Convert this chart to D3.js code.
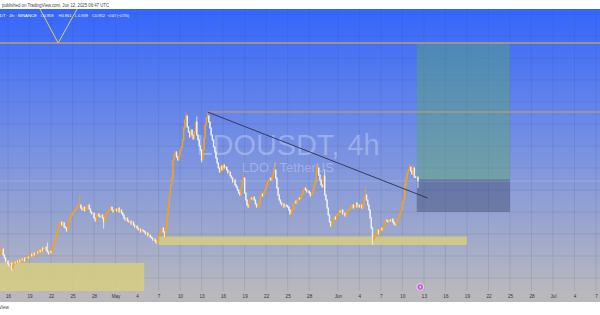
<!DOCTYPE html>
<html>
<head>
<meta charset="utf-8">
<script src="https://cdn.jsdelivr.net/npm/d3@7"></script>
<style>
  body { margin: 0; background: #fff; overflow: hidden; }
  svg { display: block; font-family: "Liberation Sans", Arial, sans-serif; }
</style>
</head>
<body>
<div id="chart"></div>
<script>
// LDOUSDT 4h closes, one row per day, starting 2025-04-15 00:00 UTC
var firstOpen = 0.806;
var closes = [
  0.810, 0.816, 0.804, 0.798, 0.790, 0.792,
  0.786, 0.782, 0.788, 0.778, 0.784, 0.790,
  0.788, 0.792, 0.790, 0.794, 0.790, 0.796,
  0.794, 0.798, 0.792, 0.796, 0.800, 0.798,
  0.802, 0.806, 0.802, 0.808, 0.804, 0.806,
  0.810, 0.808, 0.814, 0.810, 0.818, 0.812,
  0.816, 0.820, 0.814, 0.810, 0.806, 0.812,
  0.808, 0.818, 0.826, 0.834, 0.842, 0.850,
  0.862, 0.866, 0.870, 0.864, 0.868, 0.860,
  0.858, 0.852, 0.862, 0.870, 0.880, 0.884,
  0.888, 0.892, 0.894, 0.898, 0.900, 0.902,
  0.904, 0.898, 0.894, 0.900, 0.892, 0.896,
  0.900, 0.904, 0.896, 0.890, 0.886, 0.888,
  0.878, 0.872, 0.882, 0.886, 0.882, 0.880,
  0.884, 0.878, 0.870, 0.880, 0.886, 0.890,
  0.892, 0.894, 0.900, 0.894, 0.890, 0.894,
  0.896, 0.892, 0.898, 0.890, 0.894, 0.888,
  0.884, 0.878, 0.874, 0.878, 0.872, 0.870,
  0.872, 0.866, 0.870, 0.864, 0.860, 0.862,
  0.858, 0.854, 0.856, 0.850, 0.854, 0.852,
  0.850, 0.846, 0.848, 0.842, 0.844, 0.840,
  0.838, 0.834, 0.836, 0.832, 0.828, 0.832,
  0.842, 0.848, 0.854, 0.858, 0.850, 0.840,
  0.858, 0.884, 0.900, 0.924, 0.944, 0.958,
  0.994, 1.004, 1.010, 1.000, 0.994, 1.002,
  1.014, 1.020, 1.034, 1.058, 1.074, 1.082,
  1.060, 1.050, 1.040, 1.054, 1.044, 1.036,
  1.050, 1.070, 1.044, 1.034, 1.022, 1.014,
  0.994, 1.014, 1.038, 1.064, 1.078, 1.082,
  1.070, 1.058, 1.044, 1.034, 1.020, 1.010,
  0.998, 0.988, 0.978, 0.970, 0.982, 0.974,
  0.984, 0.978, 0.980, 0.974, 0.968, 0.970,
  0.962, 0.958, 0.950, 0.954, 0.944, 0.940,
  0.934, 0.928, 0.924, 0.938, 0.954, 0.958,
  0.928, 0.914, 0.904, 0.900, 0.914, 0.918,
  0.916, 0.920, 0.914, 0.906, 0.900, 0.902,
  0.908, 0.920, 0.926, 0.922, 0.928, 0.934,
  0.944, 0.950, 0.954, 0.958, 0.954, 0.960,
  0.970, 0.974, 0.958, 0.938, 0.924, 0.914,
  0.908, 0.904, 0.906, 0.900, 0.904, 0.902,
  0.900, 0.894, 0.886, 0.890, 0.896, 0.908,
  0.912, 0.908, 0.914, 0.918, 0.916, 0.922,
  0.926, 0.934, 0.938, 0.934, 0.930, 0.932,
  0.928, 0.922, 0.926, 0.934, 0.944, 0.950,
  0.970, 0.978, 0.964, 0.954, 0.944, 0.940,
  0.962, 0.924, 0.914, 0.898, 0.884, 0.870,
  0.862, 0.868, 0.874, 0.880, 0.876, 0.882,
  0.888, 0.892, 0.890, 0.894, 0.886, 0.888,
  0.882, 0.886, 0.892, 0.894, 0.898, 0.902,
  0.904, 0.898, 0.902, 0.908, 0.900, 0.904,
  0.900, 0.904, 0.898, 0.906, 0.920, 0.924,
  0.914, 0.904, 0.894, 0.878, 0.858, 0.834,
  0.838, 0.842, 0.850, 0.854, 0.846, 0.850,
  0.858, 0.854, 0.862, 0.870, 0.874, 0.872,
  0.870, 0.874, 0.872, 0.876, 0.870, 0.866,
  0.864, 0.870, 0.878, 0.880, 0.888, 0.894,
  0.910, 0.918, 0.944, 0.958, 0.968, 0.974,
  0.980, 0.972, 0.966, 0.978, 0.960, 0.959,
  0.959, 0.952
];

// visible wicks: [candle index, high, low] (null = no wick on that side)
var wicks = [
  [1, 0.822, null], [9, null, 0.774], [39, 0.828, null], [66, 0.922, null],
  [86, null, 0.858], [155, 1.088, null], [164, 1.080, null], [168, null, 0.990],
  [173, 1.090, null], [203, 0.964, null], [229, 0.988, null], [243, null, 0.882],
  [264, 0.984, null], [271, 0.974, null], [305, 0.940, null], [311, null, 0.826],
  [342, 0.984, null], [345, 0.984, null], [349, 0.961, 0.939]
];

var tickDates = [
  "2025-04-16", "2025-04-19", "2025-04-22", "2025-04-25", "2025-04-28",
  "2025-05-01", "2025-05-04", "2025-05-07", "2025-05-10", "2025-05-13",
  "2025-05-16", "2025-05-19", "2025-05-22", "2025-05-25", "2025-05-28",
  "2025-06-01", "2025-06-04", "2025-06-07", "2025-06-10", "2025-06-13",
  "2025-06-16", "2025-06-19", "2025-06-22", "2025-06-25", "2025-06-28",
  "2025-07-01", "2025-07-04", "2025-07-07"
];
var tickLabels = [
  "16", "19", "22", "25", "28", "May", "4", "7", "10", "13",
  "16", "19", "22", "25", "28", "Jun", "4", "7", "10", "13",
  "16", "19", "22", "25", "28", "Jul", "4", "7"
];
var gridPrices = [0.758, 0.802, 0.846, 0.890, 0.934, 0.978, 1.022, 1.066, 1.110, 1.154, 1.198, 1.242, 1.286];

// legend values of the last bar
var legendLabels = ["O", "H", "L", "C"];
var legendValues = ["0.959", "0.961", "0.939", "0.952"];
var legendChange = "−0.007 (−0.73%)";

// drawings
var vLine = [["2025-04-19T19:00", 1.314], ["2025-04-23T00:00", 1.228], ["2025-04-26T08:00", 1.314]];
var trendLine = [["2025-05-13T20:00", 1.090], ["2025-06-13T12:00", 0.918]];
var topLevel = 1.228;
var peakRay = ["2025-05-13T20:00", 1.090];
var position = { from: "2025-06-12T00:00", to: "2025-06-25T00:00", target: 1.226, entry: 0.954, stop: 0.890 };
var zones = [
  { from: "2025-05-07T00:00", to: "2025-06-19T00:00", hi: 0.841, lo: 0.824 },
  { from: "2025-04-10T00:00", to: "2025-05-05T00:00", hi: 0.788, lo: 0.700 }
];

var parseT = d3.utcParse("%Y-%m-%dT%H:%M");
var parseD = d3.utcParse("%Y-%m-%d");

var W = 600, H = 315;
var chartTop = 9, chartBottom = 291;

var x = d3.scaleUtc()
  .domain([parseD("2025-04-16"), parseD("2025-07-07")])
  .range([8, 596]);
var y = d3.scaleLinear()
  .domain([0.734, 1.296])
  .range([290, 9]);

// build candles
var start = parseT("2025-04-15T00:00");
var candles = closes.map(function (c, i) {
  var o = i == 0 ? firstOpen : closes[i - 1];
  return { t: new Date(start.getTime() + i * 4 * 3600 * 1000), o: o, c: c, h: Math.max(o, c), l: Math.min(o, c) };
});
wicks.forEach(function (w) {
  if (w[1] != null) candles[w[0]].h = w[1];
  if (w[2] != null) candles[w[0]].l = w[2];
});

var svg = d3.select("#chart").append("svg").attr("width", W).attr("height", H);

var defs = svg.append("defs");
var grad = defs.append("linearGradient").attr("id", "bg")
  .attr("x1", 0).attr("y1", 0).attr("x2", 0).attr("y2", 1);
grad.append("stop").attr("offset", 0).attr("stop-color", "#3466fc");
grad.append("stop").attr("offset", 0.5).attr("stop-color", "#7891e2");
grad.append("stop").attr("offset", 1).attr("stop-color", "#b8b8bd");
defs.append("clipPath").attr("id", "clip")
  .append("rect").attr("x", 0).attr("y", chartTop).attr("width", W).attr("height", chartBottom - chartTop);

// background
svg.append("rect").attr("x", 0).attr("y", chartTop).attr("width", W).attr("height", chartBottom - chartTop)
  .attr("fill", "url(#bg)");
svg.append("rect").attr("x", 0).attr("y", chartBottom).attr("width", W).attr("height", 11)
  .attr("fill", "#b9b9bd");

var plot = svg.append("g").attr("clip-path", "url(#clip)");

// grid
plot.append("g").selectAll("line").data(tickDates).join("line")
  .attr("x1", (d) => x(parseD(d))).attr("x2", (d) => x(parseD(d)))
  .attr("y1", chartTop).attr("y2", chartBottom)
  .attr("stroke", "rgba(60,70,120,0.12)").attr("stroke-width", 1);
plot.append("g").selectAll("line").data(gridPrices).join("line")
  .attr("x1", 0).attr("x2", W)
  .attr("y1", (d) => y(d)).attr("y2", (d) => y(d))
  .attr("stroke", "rgba(60,70,120,0.12)").attr("stroke-width", 1);

// watermark
plot.append("text").attr("x", 288).attr("y", 154.5).attr("text-anchor", "middle")
  .attr("font-size", 29).attr("fill", "rgba(255,255,255,0.28)")
  .attr("textLength", 183).attr("lengthAdjust", "spacingAndGlyphs")
  .text("LDOUSDT, 4h");
plot.append("text").attr("x", 288).attr("y", 171.5).attr("text-anchor", "middle")
  .attr("font-size", 13).attr("fill", "rgba(255,255,255,0.28)")
  .attr("textLength", 92).attr("lengthAdjust", "spacingAndGlyphs")
  .text("LDO / TetherUS");

// yellow zones
plot.append("g").selectAll("rect").data(zones).join("rect")
  .attr("x", (d) => x(parseT(d.from)))
  .attr("width", (d) => x(parseT(d.to)) - x(parseT(d.from)))
  .attr("y", (d) => y(d.hi))
  .attr("height", (d) => y(d.lo) - y(d.hi))
  .attr("fill", "rgb(214,206,128)").attr("opacity", 0.85);

// long position zones
var px0 = x(parseT(position.from)), px1 = x(parseT(position.to));
plot.append("rect").attr("x", px0).attr("width", px1 - px0)
  .attr("y", y(position.target)).attr("height", y(position.entry) - y(position.target))
  .attr("fill", "rgb(88,170,100)").attr("opacity", 0.42);
plot.append("rect").attr("x", px0).attr("width", px1 - px0)
  .attr("y", y(position.entry)).attr("height", y(position.stop) - y(position.entry))
  .attr("fill", "rgb(55,70,100)").attr("opacity", 0.42);
plot.append("line").attr("x1", px0).attr("x2", px1)
  .attr("y1", y(position.entry)).attr("y2", y(position.entry))
  .attr("stroke", "rgba(70,80,110,0.7)").attr("stroke-width", 0.8);

// current price line
var last = candles[candles.length - 1];
plot.append("line").attr("x1", 0).attr("x2", W)
  .attr("y1", y(last.c)).attr("y2", y(last.c))
  .attr("stroke", "rgba(215,222,255,0.25)").attr("stroke-width", 1);

// horizontal levels
plot.append("line").attr("x1", 0).attr("x2", W)
  .attr("y1", y(topLevel)).attr("y2", y(topLevel))
  .attr("stroke", "rgba(228,168,80,0.8)").attr("stroke-width", 1.3);
plot.append("line").attr("x1", x(parseT(peakRay[0]))).attr("x2", W)
  .attr("y1", y(peakRay[1])).attr("y2", y(peakRay[1]))
  .attr("stroke", "rgba(215,150,100,0.65)").attr("stroke-width", 1.3);

// candles
var cg = plot.append("g");
cg.selectAll("line").data(candles).join("line")
  .attr("x1", (d) => x(d.t)).attr("x2", (d) => x(d.t))
  .attr("y1", (d) => y(d.h) - 0.6).attr("y2", (d) => y(d.l) + 0.6)
  .attr("stroke", (d) => d.c >= d.o ? "#f7a11c" : "#eef0fa")
  .attr("stroke-width", 0.8);
cg.selectAll("rect").data(candles).join("rect")
  .attr("x", (d) => x(d.t) - 0.7)
  .attr("width", 1.4)
  .attr("y", (d) => y(Math.max(d.o, d.c)) - 0.3)
  .attr("height", (d) => Math.max(1, Math.abs(y(d.o) - y(d.c)) + 0.6))
  .attr("fill", (d) => d.c >= d.o ? "#f7a11c" : "#eef0fa");

// trend line
var line = d3.line().x((d) => x(parseT(d[0]))).y((d) => y(d[1]));
plot.append("path").datum(trendLine).attr("d", line)
  .attr("fill", "none").attr("stroke", "#283150").attr("stroke-width", 0.9);

// V drawing
plot.append("path").datum(vLine).attr("d", line)
  .attr("fill", "none").attr("stroke", "#d8d060").attr("stroke-width", 1);

// header strip
svg.append("rect").attr("x", 0).attr("y", 0).attr("width", W).attr("height", chartTop).attr("fill", "#fff");
svg.append("text").attr("x", 2).attr("y", 6.6)
  .attr("font-size", 4.6).attr("fill", "#444")
  .attr("textLength", 107).attr("lengthAdjust", "spacingAndGlyphs")
  .text("published on TradingView.com, Jun 12, 2025 06:47 UTC");

// legend
var legend = svg.append("g").attr("font-size", 4.3).attr("fill", "#fff");
legend.append("text").attr("x", 37).attr("y", 16.5).attr("text-anchor", "end")
  .text("LDOUSDT · 4h · BINANCE");
var legendX = [40.5, 58.5, 75, 92];
legendLabels.forEach(function (lab, i) {
  legend.append("text").attr("x", legendX[i]).attr("y", 16.5).attr("fill", "#e4e9ff").text(lab);
  legend.append("text").attr("x", legendX[i] + 3).attr("y", 16.5)
    .attr("textLength", 10).attr("lengthAdjust", "spacingAndGlyphs").text(legendValues[i]);
});
legend.append("text").attr("x", 107).attr("y", 16.5)
  .attr("textLength", 22).attr("lengthAdjust", "spacingAndGlyphs").text(legendChange);

// x axis
var xAxis = d3.axisBottom(x)
  .tickValues(tickDates.map(parseD))
  .tickFormat((d, i) => tickLabels[i])
  .tickSize(0).tickPadding(4);
svg.append("g").attr("transform", `translate(0,${chartBottom})`).call(xAxis)
  .call((g) => g.select(".domain").remove())
  .selectAll("text").attr("font-size", 4.6).attr("fill", "#333")
  .attr("font-family", "Liberation Sans, Arial, sans-serif");

// event marker on the time axis
var mk = svg.append("g").attr("transform", `translate(${x(parseT("2025-06-12T12:00"))},287)`);
mk.append("circle").attr("r", 3.4).attr("fill", "#c65ad8").attr("stroke", "#f4e8fa").attr("stroke-width", 0.8);
mk.append("path").attr("d", "M0.6,-2 L-1.2,0.3 L0,0.3 L-0.6,2 L1.2,-0.3 L0,-0.3 Z").attr("fill", "#fff");

// footer
svg.append("text").attr("x", -1).attr("y", 309).attr("font-size", 4.6).attr("fill", "#444").text("View");
</script>
</body>
</html>
